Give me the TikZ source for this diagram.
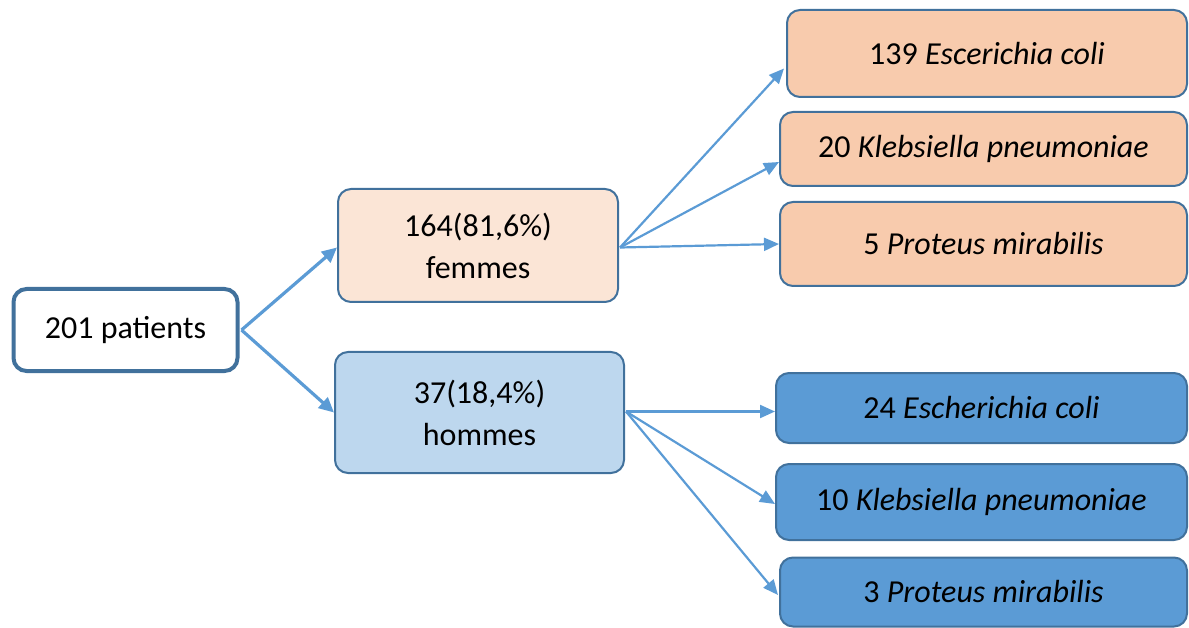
\documentclass[tikz,border=0pt]{standalone}
\usepackage{fontspec}
\setmainfont{Carlito}
\usetikzlibrary{arrows.meta}
\definecolor{bdr}{HTML}{41719C}
\definecolor{arr}{HTML}{5B9BD5}
\definecolor{peachL}{HTML}{FBE5D6}
\definecolor{peach}{HTML}{F8CBAD}
\definecolor{blueL}{HTML}{BDD7EE}
\definecolor{blueM}{HTML}{5B9BD5}
\tikzset{
  box/.style={draw=bdr, line width=2pt, rounded corners=13pt, align=center,
    font=\fontsize{32}{42}\selectfont, inner sep=0pt},
  conn/.style={draw=arr, line width=2.2pt, -{Triangle[length=15pt,width=13pt]}},
  connbig/.style={draw=arr, line width=3.2pt, -{Triangle[length=15pt,width=14pt]}}
}
\begin{document}
\begin{tikzpicture}[x=1pt,y=-1pt]
\useasboundingbox (0,0) rectangle (1189,628);
\node[box, line width=4pt, fill=white, minimum width=224pt, minimum height=82pt] (root) at (125.5,330) {201 patients};
\node[box, fill=peachL, minimum width=280pt, minimum height=113pt] (fem) at (478,245.5) {164(81,6\%)\\femmes};
\node[box, fill=blueL, minimum width=289pt, minimum height=121pt] (hom) at (479.5,412.5) {37(18,4\%)\\hommes};
\node[box, fill=peach, minimum width=400pt, minimum height=87pt] (b1) at (987,53.5) {139 \textit{Escerichia coli}};
\node[box, fill=peach, minimum width=407pt, minimum height=74pt] (b2) at (983.5,149) {20 \textit{Klebsiella pneumoniae}};
\node[box, fill=peach, minimum width=407pt, minimum height=84pt] (b3) at (983.5,244) {5 \textit{Proteus mirabilis}};
\node[box, fill=blueM, minimum width=411pt, minimum height=70pt] (b4) at (981.5,408) {24 \textit{Escherichia coli}};
\node[box, fill=blueM, minimum width=411pt, minimum height=76pt] (b5) at (981.5,502) {10 \textit{Klebsiella pneumoniae}};
\node[box, fill=blueM, minimum width=407pt, minimum height=69pt] (b6) at (983.5,592) {3 \textit{Proteus mirabilis}};
\draw[connbig] ([xshift=2pt]root.east) -- ([yshift=-2pt]fem.west);
\draw[connbig] ([xshift=2pt]root.east) -- (hom.west);
\draw[conn] ([xshift=1pt,yshift=-2pt]fem.east) -- ([xshift=-2pt,yshift=-15pt]b1.west);
\draw[conn] ([xshift=1pt,yshift=-2pt]fem.east) -- ([yshift=-13pt]b2.west);
\draw[conn] ([xshift=1pt,yshift=-2pt]fem.east) -- (b3.west);
\draw[conn] ([xshift=1pt,yshift=1pt]hom.east) -- ([yshift=-3.5pt]b4.west);
\draw[conn] ([xshift=1pt,yshift=1pt]hom.east) -- ([yshift=-2pt]b5.west);
\draw[conn] ([xshift=1pt,yshift=1pt]hom.east) -- ([xshift=-1pt,yshift=-3pt]b6.west);
\end{tikzpicture}
\end{document}
